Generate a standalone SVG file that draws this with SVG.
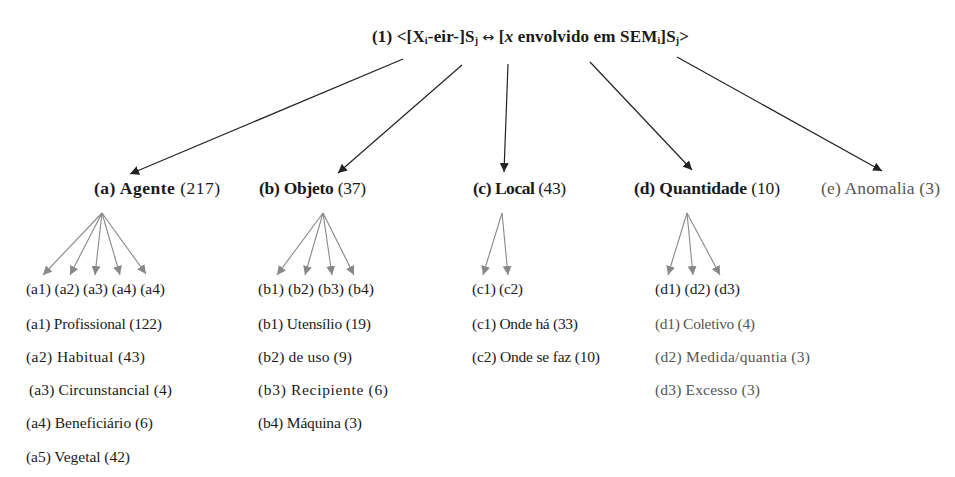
<svg xmlns="http://www.w3.org/2000/svg" width="955" height="477" viewBox="0 0 955 477">
  <style>
    text { font-family: "Liberation Serif", "DejaVu Serif", serif; fill: #1a1a1a; }
    .title { font-size: 17px; font-weight: bold; }
    .head { font-size: 17.5px; }
    .b { font-weight: bold; }
    .row { font-size: 15.5px; }
    .item { font-size: 15.5px; }
    .soft { fill: #555; }
    .arrow { font-family: "DejaVu Sans", sans-serif; font-weight: normal; font-size: 14px; }
    .main { stroke: #222; stroke-width: 1.2; fill: none; marker-end: url(#headDark); }
    .sub { stroke: #888; stroke-width: 1.1; fill: none; marker-end: url(#headGray); }
  </style>
  <defs>
    <marker id="headDark" viewBox="0 0 10 10" refX="10" refY="5" markerWidth="9" markerHeight="9" markerUnits="userSpaceOnUse" orient="auto">
      <path d="M0,0 L10,5 L0,10 z" fill="#222"/>
    </marker>
    <marker id="headGray" viewBox="0 0 10 10" refX="10" refY="5" markerWidth="9" markerHeight="9" markerUnits="userSpaceOnUse" orient="auto">
      <path d="M0,0 L10,5 L0,10 z" fill="#888"/>
    </marker>
  </defs>
  <rect width="955" height="477" fill="#fff"/>

  <!-- root construction -->
  <g id="root">
    <text class="title" x="372" y="42" textLength="317">(1)  &lt;[X<tspan font-size="10" dy="2">i</tspan><tspan dy="-2">-eir-]S</tspan><tspan font-size="10" dy="2">j</tspan><tspan dy="-2"> </tspan><tspan class="arrow">↔</tspan> [<tspan font-style="italic">x</tspan> envolvido em SEM<tspan font-size="10" dy="2">i</tspan><tspan dy="-2">]S</tspan><tspan font-size="10" dy="2">j</tspan><tspan dy="-2">&gt;</tspan></text>
  </g>

  <!-- connectors -->
  <g id="connectors">
    <line class="main" x1="403" y1="59" x2="130" y2="174"/>
    <line class="main" x1="462" y1="65" x2="338" y2="173"/>
    <line class="main" x1="508" y1="64" x2="504" y2="172"/>
    <line class="main" x1="590" y1="62" x2="692" y2="170"/>
    <line class="main" x1="677" y1="57" x2="882" y2="171"/>

    <line class="sub" x1="102" y1="213" x2="43" y2="275"/>
    <line class="sub" x1="102" y1="213" x2="70" y2="275"/>
    <line class="sub" x1="102" y1="213" x2="95" y2="275"/>
    <line class="sub" x1="102" y1="213" x2="120" y2="275"/>
    <line class="sub" x1="102" y1="213" x2="146" y2="274"/>

    <line class="sub" x1="323" y1="213" x2="277" y2="275"/>
    <line class="sub" x1="323" y1="213" x2="305" y2="275"/>
    <line class="sub" x1="323" y1="213" x2="332" y2="275"/>
    <line class="sub" x1="323" y1="213" x2="354" y2="275"/>

    <line class="sub" x1="502" y1="213" x2="483" y2="275"/>
    <line class="sub" x1="502" y1="213" x2="508" y2="275"/>

    <line class="sub" x1="687" y1="213" x2="668" y2="275"/>
    <line class="sub" x1="687" y1="213" x2="693" y2="275"/>
    <line class="sub" x1="687" y1="213" x2="720" y2="275"/>
  </g>

  <!-- (a) Agente -->
  <g id="agente">
    <text class="head" x="94" y="194" textLength="126"><tspan class="b">(a) Agente</tspan> (217)</text>
    <text class="row" x="26" y="294" textLength="139">(a1) (a2) (a3) (a4) (a4)</text>
    <text class="item" x="26" y="329" textLength="136">(a1) Profissional (122)</text>
    <text class="item" x="26" y="362" textLength="119">(a2) Habitual (43)</text>
    <text class="item" x="29" y="395" textLength="143">(a3) Circunstancial (4)</text>
    <text class="item" x="26" y="428" textLength="127">(a4) Beneficiário (6)</text>
    <text class="item" x="26" y="462" textLength="104">(a5) Vegetal (42)</text>
  </g>

  <!-- (b) Objeto -->
  <g id="objeto">
    <text class="head" x="259" y="194" textLength="107"><tspan class="b">(b) Objeto</tspan> (37)</text>
    <text class="row" x="258" y="294" textLength="116">(b1) (b2) (b3) (b4)</text>
    <text class="item" x="258" y="329" textLength="113">(b1) Utensílio (19)</text>
    <text class="item" x="258" y="362" textLength="94">(b2) de uso (9)</text>
    <text class="item" x="258" y="395" textLength="130">(b3) Recipiente (6)</text>
    <text class="item" x="258" y="428" textLength="104">(b4) Máquina (3)</text>
  </g>

  <!-- (c) Local -->
  <g id="local">
    <text class="head" x="473" y="194" textLength="93"><tspan class="b">(c) Local</tspan> (43)</text>
    <text class="row" x="472" y="294" textLength="51">(c1) (c2)</text>
    <text class="item" x="472" y="329" textLength="106">(c1) Onde há (33)</text>
    <text class="item" x="472" y="362" textLength="128">(c2) Onde se faz (10)</text>
  </g>

  <!-- (d) Quantidade -->
  <g id="quantidade">
    <text class="head" x="634" y="194" textLength="146"><tspan class="b">(d) Quantidade</tspan> (10)</text>
    <text class="row" x="655" y="294" textLength="85">(d1) (d2) (d3)</text>
    <text class="item soft" x="655" y="329" textLength="100">(d1) Coletivo (4)</text>
    <text class="item soft" x="655" y="362" textLength="155">(d2) Medida/quantia (3)</text>
    <text class="item soft" x="655" y="395" textLength="105">(d3) Excesso (3)</text>
  </g>

  <!-- (e) Anomalia -->
  <g id="anomalia">
    <text class="head soft" x="821" y="194" textLength="119">(e) Anomalia (3)</text>
  </g>
</svg>
